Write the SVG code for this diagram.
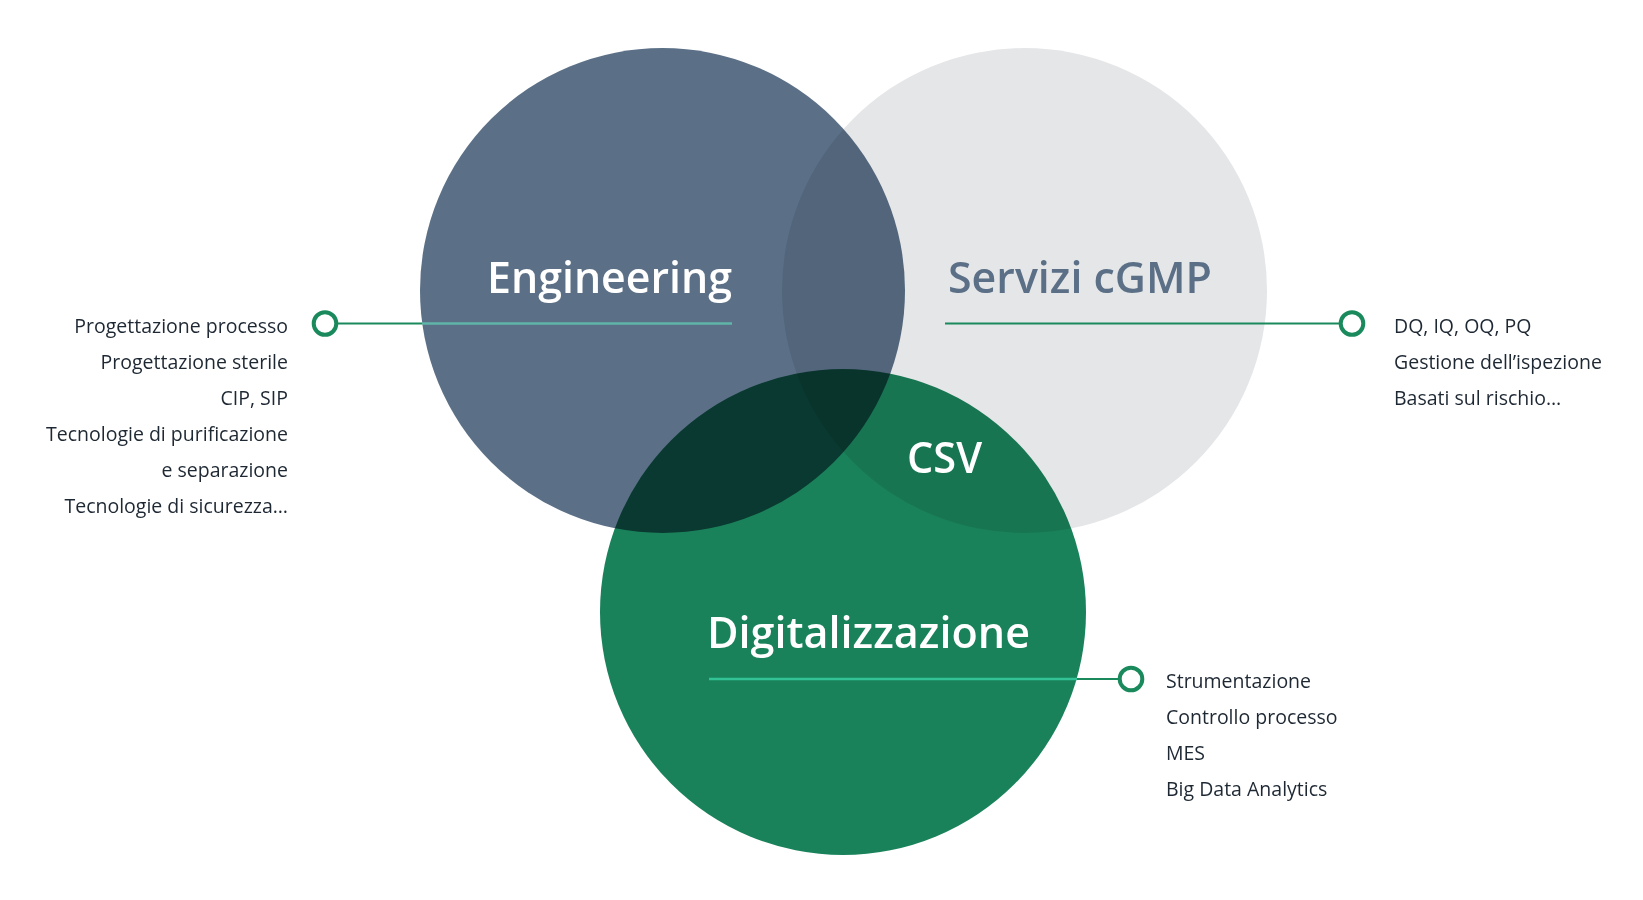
<svg xmlns="http://www.w3.org/2000/svg" width="1643" height="900" viewBox="0 0 1643 900">
  <style>
    .circ { mix-blend-mode: multiply; }
    .title { font-family: "Open Sans", "Noto Sans", sans-serif; font-size: 43px; font-weight: 600; }
    .item { font-family: "Open Sans", "Noto Sans", sans-serif; font-size: 19.5px; font-weight: 500; fill: #1e2833; }
    .ring { fill: #ffffff; stroke: #1a8a5c; stroke-width: 4; }
    .lout { stroke: #1a8a5c; stroke-width: 2; }
  </style>
  <rect width="1643" height="900" fill="#ffffff"/>
  <g id="venn" style="isolation:isolate">
    <g id="node-engineering"><circle class="circ" cx="662.5" cy="290.5" r="242.5" fill="#5b7087"/></g>
    <g id="node-servizi"><circle class="circ" cx="1024.5" cy="290.5" r="242.5" fill="#e5e6e8"/></g>
    <g id="node-digitalizzazione"><circle class="circ" cx="843" cy="612" r="243" fill="#19825a"/></g>
  </g>
  <g id="connectors">
    <line class="lout" x1="336" y1="323.5" x2="422" y2="323.5"/>
    <line x1="422" y1="323.5" x2="732" y2="323.5" stroke="#5fb5a8" stroke-width="2.5"/>
    <line class="lout" x1="945" y1="323.5" x2="1341" y2="323.5"/>
    <line x1="709" y1="679" x2="1077" y2="679" stroke="#33c295" stroke-width="2.5"/>
    <line class="lout" x1="1077" y1="679" x2="1120" y2="679"/>
    <circle class="ring" cx="325" cy="323.5" r="11.3"/>
    <circle class="ring" cx="1352" cy="323.5" r="11.3"/>
    <circle class="ring" cx="1131" cy="679" r="11.3"/>
  </g>
  <g id="labels">
    <text class="title" x="487" y="293" fill="#ffffff" textLength="245" lengthAdjust="spacingAndGlyphs">Engineering</text>
    <text class="title" x="948" y="293" fill="#5b7087" textLength="264" lengthAdjust="spacingAndGlyphs">Servizi cGMP</text>
    <text class="title" x="907" y="473" fill="#ffffff" textLength="75" lengthAdjust="spacingAndGlyphs">CSV</text>
    <text class="title" x="707" y="648" fill="#ffffff" textLength="323" lengthAdjust="spacingAndGlyphs">Digitalizzazione</text>
  </g>
  <g id="list-engineering" text-anchor="end">
    <text class="item" x="288" y="333">Progettazione processo</text>
    <text class="item" x="288" y="369">Progettazione sterile</text>
    <text class="item" x="288" y="405">CIP, SIP</text>
    <text class="item" x="288" y="441">Tecnologie di purificazione</text>
    <text class="item" x="288" y="477">e separazione</text>
    <text class="item" x="288" y="513">Tecnologie di sicurezza…</text>
  </g>
  <g id="list-servizi">
    <text class="item" x="1394" y="333">DQ, IQ, OQ, PQ</text>
    <text class="item" x="1394" y="369">Gestione dell’ispezione</text>
    <text class="item" x="1394" y="405">Basati sul rischio…</text>
  </g>
  <g id="list-digitalizzazione">
    <text class="item" x="1166" y="688">Strumentazione</text>
    <text class="item" x="1166" y="724">Controllo processo</text>
    <text class="item" x="1166" y="760">MES</text>
    <text class="item" x="1166" y="796">Big Data Analytics</text>
  </g>
</svg>
